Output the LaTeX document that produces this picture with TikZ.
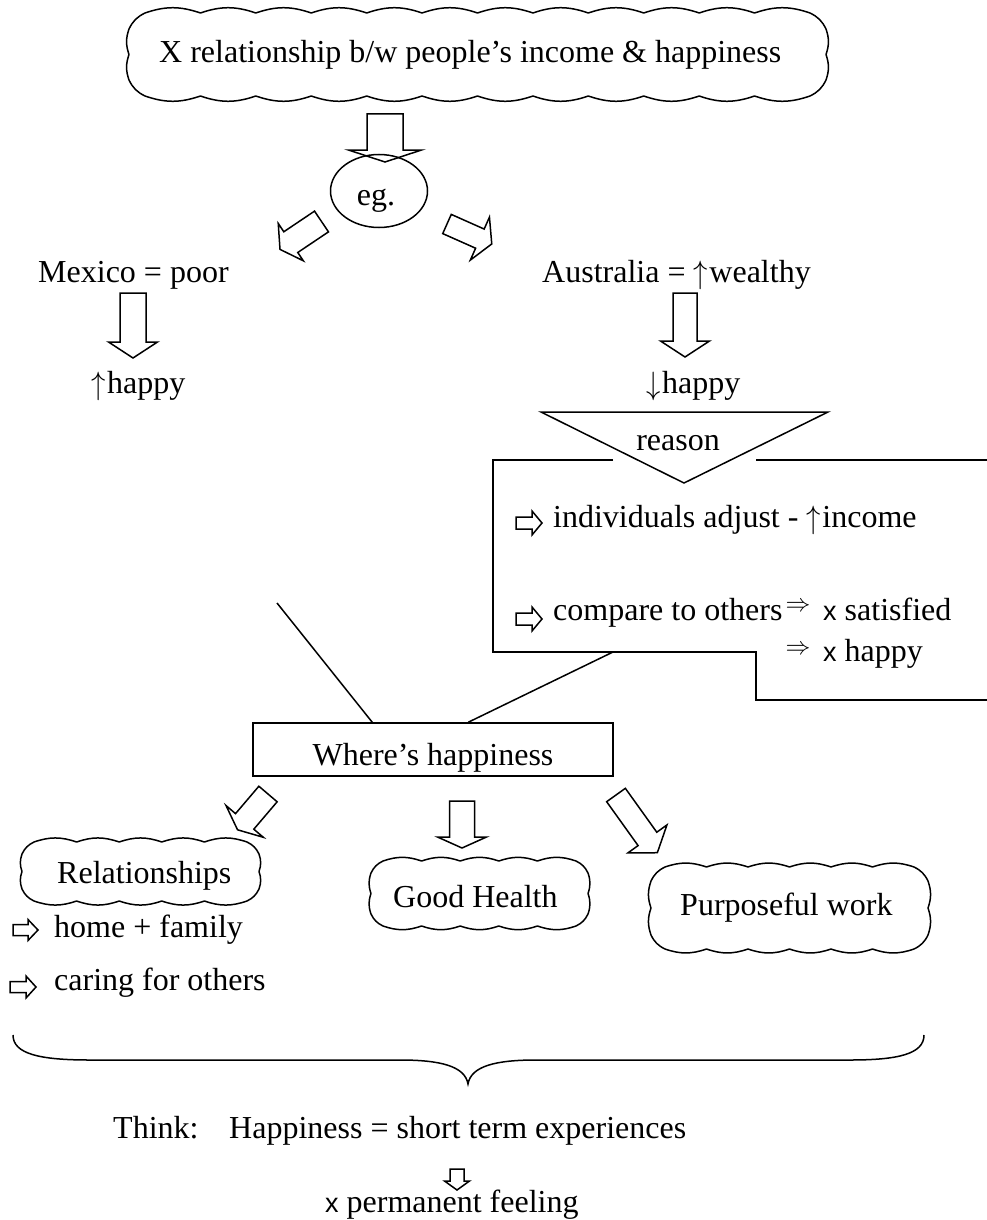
\documentclass[tikz,border=0pt]{standalone}
\usepackage{graphicx}
\usepackage{fontspec}
\setmainfont{Liberation Serif}
\newfontfamily\xsansfam{Liberation Sans}
\usetikzlibrary{shapes.geometric}
\tikzset{
  ln/.style={line width=1.5pt, line join=miter},
  cloudline/.style={line width=1.5pt, line join=round},
  txt/.style={inner sep=0pt, font=\fontsize{32}{38}\selectfont},
  blk/.style={line width=1.5pt, line join=miter, fill=white},
  bmp/.style={bend left=19}
}
\newcommand\xsym{{\xsansfam\fontsize{27}{30}\selectfont x}}
\newcommand\upar{\raisebox{-0.06em}{\scalebox{1.15}[1.3]{$\uparrow$}}\kern0.05em}
\newcommand\dnar{\raisebox{-0.06em}{\scalebox{1.15}[1.3]{$\downarrow$}}\kern0.05em}
% name, x, y (tail centre), canvas angle, shaft length, head length, shaft width, head width
\newcommand\blockarr[8]{%
  \begin{scope}[shift={(#2,#3)}, rotate=#4]
    \draw[blk] (0,{-#7/2}) -- (#5,{-#7/2}) -- (#5,{-#8/2}) -- ({#5+#6},0) -- (#5,{#8/2}) -- (#5,{#7/2}) -- (0,{#7/2}) -- cycle;
    \coordinate (#1) at ({#5+#6},0);
  \end{scope}}
% cloud outline: x1, y1, x2, y2, bumps along x, bumps along y, corner cut
\newcommand\cloudbox[7]{%
  \draw[cloudline] ({#1+#7},#2)
    \foreach \i in {1,...,#5} { to[bmp] ({#1+#7+\i*(#3-#1-2*#7)/#5},#2) }
    to[bmp] (#3,{#2+#7})
    \foreach \i in {1,...,#6} { to[bmp] (#3,{#2+#7+\i*(#4-#2-2*#7)/#6}) }
    to[bmp] ({#3-#7},#4)
    \foreach \i in {1,...,#5} { to[bmp] ({#3-#7-\i*(#3-#1-2*#7)/#5},#4) }
    to[bmp] (#1,{#4-#7})
    \foreach \i in {1,...,#6} { to[bmp] (#1,{#4-#7-\i*(#4-#2-2*#7)/#6}) }
    to[bmp] ({#1+#7},#2) -- cycle;}
\begin{document}
\begin{tikzpicture}[x=1pt,y=-1pt]
\useasboundingbox (0,0) rectangle (987,1220);

% ---------- title cloud ----------
\node[txt, anchor=base west] (title) at (159,63) {X relationship b/w people’s income \& happiness};
\cloudbox{129}{13}{826}{96}{12}{2}{16}

% ---------- eg ----------
\blockarr{a1}{385}{114}{-90}{36}{12}{36}{73}
\node[draw, ln, ellipse, minimum width=97pt, minimum height=73pt, inner sep=0pt] (eg) at (379,191) {};
\node[txt, anchor=base] (egt) at (376,205) {eg.};
\blockarr{a2}{321.5}{221.5}{213.9}{37}{13}{25}{45}
\blockarr{a3}{447}{224}{-24}{36}{13}{21}{47}

% ---------- Mexico / Australia ----------
\node[txt, anchor=base west] (mex) at (38,282) {Mexico = poor};
\blockarr{a4}{133}{293}{-90}{49}{16}{26}{49}
\node[txt, anchor=base west] (mexh) at (91,393) {\upar happy};

\node[txt, anchor=base west] (aus) at (542,282) {Australia = \upar wealthy};
\blockarr{a5}{685}{293}{-90}{48}{16}{24}{49}
\node[txt, anchor=base west] (aush) at (646,393) {\dnar happy};

% ---------- reason ----------
\draw[ln] (541,412) -- (828,412) -- (684,483) -- cycle;
\node[txt, anchor=base] (reason) at (678,450) {reason};
\draw[ln] (613,460) -- (493,460) -- (493,652) -- (756,652) -- (756,700) -- (987,700);
\draw[ln] (756,460) -- (987,460);

\blockarr{b1}{516}{523}{0}{16}{10}{12}{24}
\node[txt, anchor=base west] (r1) at (553,527) {individuals adjust - \upar income};
\blockarr{b2}{516}{619}{0}{16}{10}{12}{24}
\node[txt, anchor=base west] (r2) at (553,620) {compare to others};
\node[inner sep=0pt, font=\fontsize{24}{24}\selectfont] (imp1) at (798,607) {$\Rightarrow$};
\node[txt, anchor=base west] (r3) at (823,620) {\xsym\ satisfied};
\node[inner sep=0pt, font=\fontsize{24}{24}\selectfont] (imp2) at (798,650) {$\Rightarrow$};
\node[txt, anchor=base west] (r4) at (823,661) {\xsym\ happy};

% ---------- where's happiness ----------
\node[draw, ln, minimum width=360pt, minimum height=53pt, inner sep=0pt] (wh) at (433,749.5) {};
\node[txt, anchor=base] (wht) at (433,765) {Where’s happiness};
\coordinate (lfree) at (277,603);
\coordinate (rfree) at (613,652);
\draw[ln] (lfree) -- ([xshift=120pt]wh.north west);
\draw[ln] (rfree) -- ([xshift=216pt]wh.north west);

\blockarr{c1}{268}{794}{229.6}{36}{11}{24}{49}
\blockarr{c2}{462}{801}{-90}{36}{11}{25}{49}
\blockarr{c3}{616}{795}{-54.4}{54}{17}{23}{48}

% ---------- clouds ----------
\node[txt, anchor=base west] (rel) at (57,883) {Relationships};
\cloudbox{22}{842}{259}{901}{5}{2}{12}
\node[txt, anchor=base west] (gh) at (393,907) {Good Health};
\cloudbox{371}{861}{588}{926}{5}{2}{12}
\node[txt, anchor=base west] (pw) at (680,915) {Purposeful work};
\cloudbox{651}{867}{928}{949}{6}{2}{14}

\blockarr{d1}{13}{930}{0}{15}{10}{11}{21}
\node[txt, anchor=base west] (hf) at (54,937) {home + family};
\blockarr{d2}{10}{987}{0}{16}{10}{11}{22}
\node[txt, anchor=base west] (cf) at (54,990) {caring for others};

% ---------- brace ----------
\draw[ln] (13,1035) .. controls (13,1054) and (40,1060) .. (90,1060) -- (400,1060)
  .. controls (440,1060) and (465,1066) .. (468,1084)
  .. controls (471,1066) and (496,1060) .. (536,1060) -- (850,1060)
  .. controls (898,1060) and (924,1054) .. (924,1035);

% ---------- conclusion ----------
\node[txt, anchor=base west] (think) at (113,1138) {Think:};
\node[txt, anchor=base west] (hap) at (229,1138) {Happiness = short term experiences};
\blockarr{e1}{457}{1169}{-90}{12}{9}{14}{25}
\node[txt, anchor=base west] (perm) at (325,1212) {\xsym\ permanent feeling};
\end{tikzpicture}
\end{document}
